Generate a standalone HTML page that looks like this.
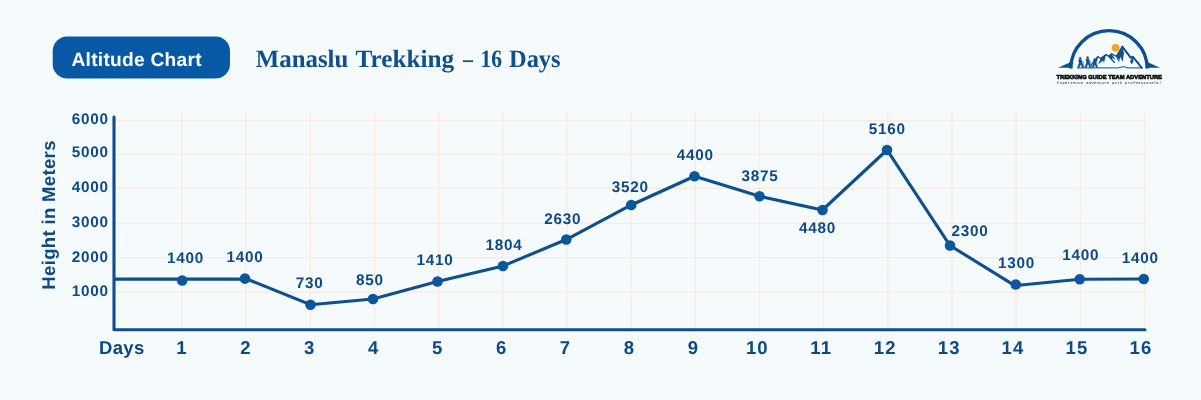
<!DOCTYPE html>
<html lang="en"><head><meta charset="utf-8"><title>Altitude Chart - Manaslu Trekking - 16 Days</title>
<style>
html,body{margin:0;padding:0;background:#f5fafd;}
body{width:1201px;height:400px;overflow:hidden;}
svg{display:block;text-rendering:geometricPrecision}
.sans{font-family:"Liberation Sans","DejaVu Sans",sans-serif;font-weight:700}
.serif{font-family:"Liberation Serif","DejaVu Serif",serif;font-weight:700}
.mono{font-family:"Liberation Mono","DejaVu Sans Mono",monospace}
</style></head><body>
<svg width="1201" height="400" viewBox="0 0 1201 400">
<rect x="0" y="0" width="1201" height="400" fill="#f5fafd"/>
<rect x="52.7" y="36.6" width="177.3" height="42" rx="14.5" ry="14.5" fill="#0759a6"/>
<text class="sans" x="136.7" y="65.9" font-size="19.2" fill="#ffffff" text-anchor="middle" letter-spacing="0.25">Altitude Chart</text>
<g class="serif" font-size="25" fill="#0f4f8c"><text x="255.8" y="67.3" textLength="92.5" lengthAdjust="spacingAndGlyphs">Manaslu</text><text x="355.6" y="67.3" textLength="98.6" lengthAdjust="spacingAndGlyphs">Trekking</text><text x="463.0" y="67.3" textLength="10.0" lengthAdjust="spacingAndGlyphs">–</text><text x="480.5" y="67.3" textLength="21.5" lengthAdjust="spacingAndGlyphs">16</text><text x="509.0" y="67.3" textLength="51.6" lengthAdjust="spacingAndGlyphs">Days</text></g>
<g stroke="#f9eadb" stroke-width="1.25" fill="none">
<line x1="182.00" y1="112" x2="182.00" y2="329.8"/>
<line x1="246.17" y1="112" x2="246.17" y2="329.8"/>
<line x1="310.33" y1="112" x2="310.33" y2="329.8"/>
<line x1="374.50" y1="112" x2="374.50" y2="329.8"/>
<line x1="438.67" y1="112" x2="438.67" y2="329.8"/>
<line x1="502.83" y1="112" x2="502.83" y2="329.8"/>
<line x1="567.00" y1="112" x2="567.00" y2="329.8"/>
<line x1="631.17" y1="112" x2="631.17" y2="329.8"/>
<line x1="695.33" y1="112" x2="695.33" y2="329.8"/>
<line x1="759.50" y1="112" x2="759.50" y2="329.8"/>
<line x1="823.67" y1="112" x2="823.67" y2="329.8"/>
<line x1="887.83" y1="112" x2="887.83" y2="329.8"/>
<line x1="952.00" y1="112" x2="952.00" y2="329.8"/>
<line x1="1016.17" y1="112" x2="1016.17" y2="329.8"/>
<line x1="1080.33" y1="112" x2="1080.33" y2="329.8"/>
<line x1="1144.50" y1="112" x2="1144.50" y2="329.8"/>
<line x1="114" y1="120.50" x2="1145.2" y2="120.50"/>
<line x1="114" y1="154.20" x2="1145.2" y2="154.20"/>
<line x1="114" y1="188.40" x2="1145.2" y2="188.40"/>
<line x1="114" y1="223.00" x2="1145.2" y2="223.00"/>
<line x1="114" y1="257.60" x2="1145.2" y2="257.60"/>
<line x1="114" y1="292.00" x2="1145.2" y2="292.00"/>
</g>
<path d="M114 117 V329.8 H1145" fill="none" stroke="#0f4f8c" stroke-width="3.1" stroke-linecap="round" stroke-linejoin="round"/>
<path d="M114.25 279.1 L182.20 279.10 L247.00 279.10 L310.50 304.70 L373.00 299.00 L437.50 281.50 L503.00 266.00 L566.25 239.50 L631.25 205.00 L694.50 176.25 L759.50 196.25 L822.50 210.00 L887.00 150.00 L950.00 245.50 L1014.80 285.60 L1079.75 279.25 L1143.75 279.00" fill="none" stroke="#0f4f8c" stroke-width="3.1" stroke-linejoin="miter"/>
<circle cx="182.20" cy="280.50" r="5.3" fill="#0c569c"/>
<circle cx="245.00" cy="278.60" r="5.3" fill="#0c569c"/>
<circle cx="310.50" cy="304.70" r="5.3" fill="#0c569c"/>
<circle cx="373.00" cy="299.00" r="5.3" fill="#0c569c"/>
<circle cx="437.50" cy="281.50" r="5.3" fill="#0c569c"/>
<circle cx="503.00" cy="266.00" r="5.3" fill="#0c569c"/>
<circle cx="566.25" cy="239.50" r="5.3" fill="#0c569c"/>
<circle cx="631.25" cy="205.00" r="5.3" fill="#0c569c"/>
<circle cx="694.50" cy="176.25" r="5.3" fill="#0c569c"/>
<circle cx="759.50" cy="196.25" r="5.3" fill="#0c569c"/>
<circle cx="822.50" cy="210.00" r="5.3" fill="#0c569c"/>
<circle cx="887.00" cy="150.00" r="5.3" fill="#0c569c"/>
<circle cx="950.00" cy="245.50" r="5.3" fill="#0c569c"/>
<circle cx="1015.75" cy="284.50" r="5.3" fill="#0c569c"/>
<circle cx="1079.75" cy="279.25" r="5.3" fill="#0c569c"/>
<circle cx="1143.75" cy="279.00" r="5.3" fill="#0c569c"/>
<g class="sans" font-size="15.3" fill="#0d4a83" text-anchor="middle" letter-spacing="0.75">
<text x="185.55" y="262.50">1400</text>
<text x="245.05" y="261.75">1400</text>
<text x="309.55" y="288.00">730</text>
<text x="369.80" y="284.50">850</text>
<text x="435.05" y="264.50">1410</text>
<text x="504.05" y="250.00">1804</text>
<text x="562.80" y="224.25">2630</text>
<text x="630.30" y="192.00">3520</text>
<text x="695.30" y="160.00">4400</text>
<text x="760.05" y="180.50">3875</text>
<text x="817.50" y="232.50">4480</text>
<text x="887.30" y="134.25">5160</text>
<text x="970.05" y="235.50">2300</text>
<text x="1016.55" y="268.25">1300</text>
<text x="1080.70" y="260.25">1400</text>
<text x="1140.30" y="263.00">1400</text>
</g>
<g class="sans" font-size="15.3" fill="#0d4a83" text-anchor="end" letter-spacing="0.75">
<text x="108.8" y="124.25">6000</text>
<text x="108.8" y="156.75">5000</text>
<text x="108.8" y="192.00">4000</text>
<text x="108.8" y="227.00">3000</text>
<text x="108.8" y="261.75">2000</text>
<text x="108.8" y="296.25">1000</text>
</g>
<g class="sans" font-size="18.5" fill="#0d4a83" text-anchor="middle" letter-spacing="1.2">
<text x="182.00" y="353.75">1</text>
<text x="245.93" y="353.75">2</text>
<text x="309.86" y="353.75">3</text>
<text x="373.79" y="353.75">4</text>
<text x="437.72" y="353.75">5</text>
<text x="501.65" y="353.75">6</text>
<text x="565.58" y="353.75">7</text>
<text x="629.51" y="353.75">8</text>
<text x="693.44" y="353.75">9</text>
<text x="757.37" y="353.75">10</text>
<text x="821.30" y="353.75">11</text>
<text x="885.23" y="353.75">12</text>
<text x="949.16" y="353.75">13</text>
<text x="1013.09" y="353.75">14</text>
<text x="1077.02" y="353.75">15</text>
<text x="1140.95" y="353.75">16</text>
</g>
<text class="sans" font-size="18.5" fill="#0d4a83" x="98.9" y="353.75" letter-spacing="0.4">Days</text>
<text class="sans" font-size="18.5" fill="#0d4a83" transform="translate(55 289.7) rotate(-90)" letter-spacing="0.35">Height in Meters</text>
<g id="logo">
<path d="M1070.8 68.5 A38.2 37.9 0 0 1 1147.2 68.5" fill="none" stroke="#0f4f8c" stroke-width="3.3"/>
<path d="M1070.3 62.3 L1058 67.8 L1072.6 67.8 Z" fill="#0f4f8c"/>
<path d="M1147.7 62.3 L1160 67.8 L1145.4 67.8 Z" fill="#0f4f8c"/>
<circle cx="1115.6" cy="47.8" r="3.9" fill="#f4a51c"/>
<path d="M1091.5 65 L1097.9 56.5 L1100.5 58.6 L1106 54.4 L1108.4 56.3 L1111.75 53.7 L1116.25 56.3 L1122.25 46.6 L1130.9 57.8 L1132.75 56.7 L1141.75 67.8" fill="none" stroke="#0f4f8c" stroke-width="1.3" stroke-linejoin="round" stroke-linecap="round"/>
<path d="M1122.25 46.6 L1130.9 57.8 L1132.75 56.7 L1141.5 67.5" fill="none" stroke="#0f4f8c" stroke-width="1.9" stroke-linejoin="round" stroke-linecap="round"/>
<path d="M1108.4 56.3 L1114.5 62.5 M1116.25 56.3 L1119 61" fill="none" stroke="#0f4f8c" stroke-width="1.1" stroke-linecap="round"/>
<path d="M1122.25 46.6 L1116.5 56 L1119 60.5 L1120.5 57 L1122.5 62 L1124 53 Z" fill="#0f4f8c"/>
<path d="M1111.75 53.7 L1108.6 56.3 L1113 61 L1112 57.5 L1115.5 60 Z" fill="#0f4f8c"/>
<path d="M1106 54.4 L1100.8 58.6 L1098 64.5 L1103 60.5 L1104 63 Z" fill="#0f4f8c"/>
<path d="M1097.9 56.5 L1093 63.5 L1096.5 61 L1097 63.5 Z" fill="#0f4f8c"/>
<path d="M1132.75 56.7 L1130 61.5 L1132 64.5 L1133.5 61 Z" fill="#0f4f8c"/>
<path d="M1077 67.9 H1110 Q1118 68.6 1124 66.6 L1127 67.9 H1143" fill="none" stroke="#0f4f8c" stroke-width="1"/>
<g fill="#0f4f8c" stroke="#0f4f8c" stroke-width="0.4">
<circle cx="1080.2" cy="58.4" r="1.1"/><path d="M1078.6 59.8 h3 l0.6 3.2 l1.6 4.6 h-1.5 l-1.6-3.4 l-1.7 3.4 h-1.5 l1.6-4.4 z"/><path d="M1083 61 l1.2 6.6" fill="none" stroke-width="0.5"/>
<circle cx="1087.6" cy="57.6" r="1.1"/><path d="M1086 59 h3 l0.6 3.4 l1.6 5.2 h-1.5 l-1.6-4 l-1.7 4 h-1.5 l1.6-5 z"/><path d="M1090.6 60.5 l1.2 7.1" fill="none" stroke-width="0.5"/>
<circle cx="1094.6" cy="59.4" r="1"/><path d="M1093.2 60.6 h2.6 l0.6 3 l1.4 4 h-1.4 l-1.4-3 l-1.5 3 h-1.4 l1.4-3.8 z"/>
</g>
<text x="1109.2" y="78.6" text-anchor="middle" font-family="'Liberation Sans','DejaVu Sans',sans-serif" font-weight="700" font-size="5.7" fill="#111111" stroke="#111111" stroke-width="0.6" textLength="105.5" lengthAdjust="spacingAndGlyphs">TREKKING GUIDE TEAM ADVENTURE</text>
<text x="1109.3" y="83.6" text-anchor="middle" class="mono" font-size="3.9" fill="#222222" textLength="104" lengthAdjust="spacing">Experience adventure with professionals!</text>
</g>
</svg>
</body></html>
